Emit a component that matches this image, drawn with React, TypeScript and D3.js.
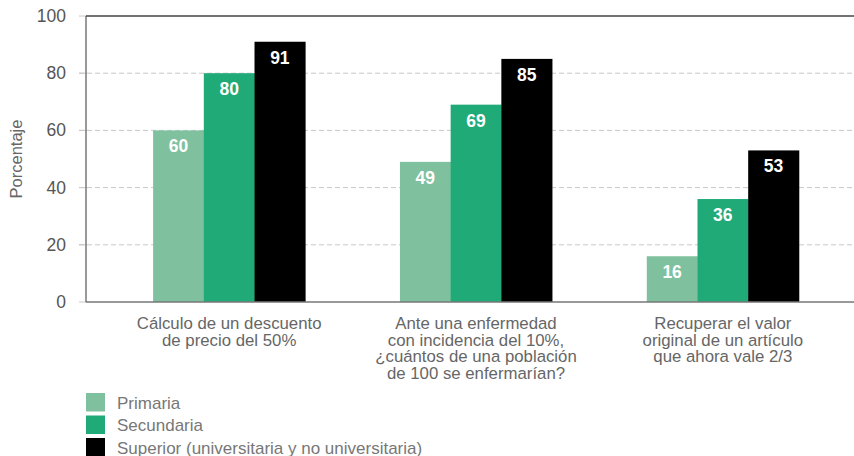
import React from "react";
import * as d3 from "d3";

const categories = [
  ["Cálculo de un descuento", "de precio del 50%"],
  ["Ante una enfermedad", "con incidencia del 10%,", "¿cuántos de una población", "de 100 se enfermarían?"],
  ["Recuperar el valor", "original de un artículo", "que ahora vale 2/3"],
];
const seriesNames = ["Primaria", "Secundaria", "Superior (universitaria y no universitaria)"];
const primaria = [60, 49, 16];
const secundaria = [80, 69, 36];
const superior = [91, 85, 53];
const yTicks = [0, 20, 40, 60, 80, 100];
const colors = ["#7fc19f", "#1faa78", "#000000"];

export default function App() {
  const W = 854, H = 456;
  const left = 86, right = 866, top = 16, bottom = 302;
  const series = [primaria, secundaria, superior];
  const idx = categories.map((_, i) => String(i));
  const x = d3.scaleBand().domain(idx).range([left, right]).paddingInner(0).paddingOuter(0.08);
  const y = d3.scaleLinear().domain([0, 100]).range([bottom, top]);
  const barW = 50.7;
  const font = "'Liberation Sans', Arial, Helvetica, sans-serif";
  return (
    <svg width={W} height={H} style={{ position: "absolute", left: 0, top: 0, fontFamily: font }}>
      {yTicks.map((t) => (
        <g key={t}>
          {t > 0 && t < 100 && (
            <line x1={79} x2={W} y1={y(t)} y2={y(t)} stroke="#c8c8c8" strokeDasharray="5,3" strokeWidth={1} />
          )}
          <line x1={79} x2={left} y1={y(t)} y2={y(t)} stroke="#c8c8c8" strokeWidth={1} />
          <text x={66} y={y(t) + 6} textAnchor="end" fontSize={17.5} fill="#555">{t}</text>
        </g>
      ))}
      <text transform={`translate(22,${(top + bottom) / 2}) rotate(-90)`} textAnchor="middle" fontSize={16.5} fill="#666">Porcentaje</text>
      {idx.map((c, i) => {
        const cx = (x(c) as number) + x.bandwidth() / 2;
        const gx = cx - (barW * 3) / 2;
        return (
          <g key={c}>
            {series.map((s, j) => (
              <g key={j}>
                <rect x={gx + j * barW} y={y(s[i])} width={barW + 0.4} height={bottom - y(s[i])} fill={colors[j]} />
                <text x={gx + j * barW + barW / 2} y={y(s[i]) + 22} textAnchor="middle" fontSize={17.5} fontWeight="bold" fill="#fff">{s[i]}</text>
              </g>
            ))}
            <text x={cx} y={329} textAnchor="middle" fontSize={16.8} fill="#666">
              {categories[i].map((line, k) => (
                <tspan key={k} x={cx} dy={k === 0 ? 0 : 16.6}>{line}</tspan>
              ))}
            </text>
          </g>
        );
      })}
      <line x1={left} x2={W} y1={top} y2={top} stroke="#444" strokeWidth={1.6} />
      <line x1={left} x2={W} y1={bottom} y2={bottom} stroke="#777" strokeWidth={1.6} />
      <line x1={left} x2={left} y1={top} y2={bottom} stroke="#555" strokeWidth={1.2} />
      {seriesNames.map((n, j) => (
        <g key={n}>
          <rect x={86} y={393 + j * 22.5} width={19} height={18.5} fill={colors[j]} />
          <text x={117} y={408.5 + j * 22.5} fontSize={17} fill="#777">{n}</text>
        </g>
      ))}
    </svg>
  );
}
